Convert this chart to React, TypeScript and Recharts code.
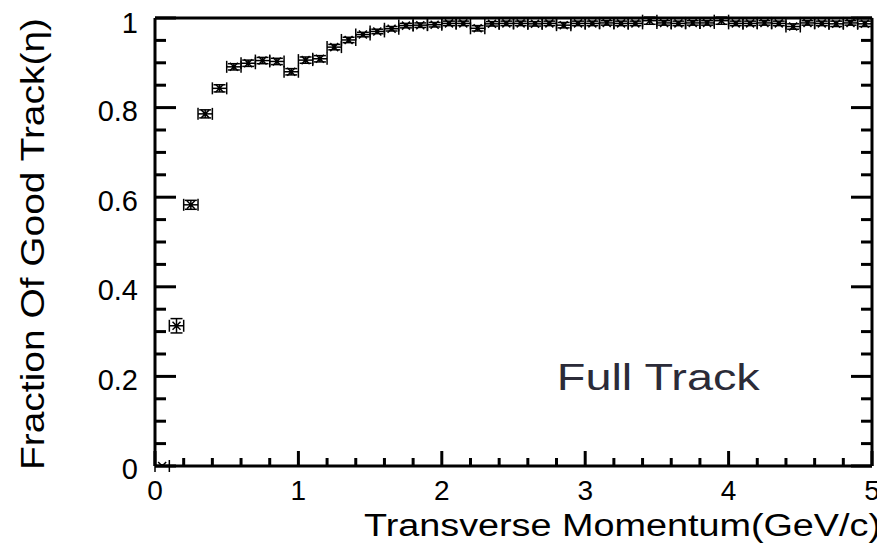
import React from "react";
import { ScatterChart, Scatter, XAxis, YAxis, ErrorBar } from "recharts";

// Transverse-momentum bin centres (GeV/c), 0.1 GeV/c wide bins
const PT_BINS = [
  0.05, 0.15, 0.25, 0.35, 0.45, 0.55, 0.65, 0.75, 0.85, 0.95,
  1.05, 1.15, 1.25, 1.35, 1.45, 1.55, 1.65, 1.75, 1.85, 1.95,
  2.05, 2.15, 2.25, 2.35, 2.45, 2.55, 2.65, 2.75, 2.85, 2.95,
  3.05, 3.15, 3.25, 3.35, 3.45, 3.55, 3.65, 3.75, 3.85, 3.95,
  4.05, 4.15, 4.25, 4.35, 4.45, 4.55, 4.65, 4.75, 4.85, 4.95,
];

// Fraction of good tracks per bin
const GOOD_FRACTION = [
  0.0, 0.313, 0.583, 0.786, 0.843, 0.891, 0.899, 0.905, 0.903, 0.88,
  0.906, 0.909, 0.935, 0.951, 0.963, 0.97, 0.976, 0.983, 0.984, 0.985,
  0.988, 0.988, 0.977, 0.987, 0.988, 0.988, 0.987, 0.988, 0.984, 0.988,
  0.988, 0.989, 0.988, 0.988, 0.994, 0.989, 0.988, 0.989, 0.989, 0.994,
  0.988, 0.988, 0.989, 0.988, 0.981, 0.989, 0.988, 0.987, 0.989, 0.987,
];

// Statistical uncertainty on the fraction
const FRACTION_ERR = [
  0.0, 0.016, 0.01, 0.009, 0.008, 0.007, 0.007, 0.007, 0.007, 0.007,
  0.007, 0.007, 0.006, 0.006, 0.005, 0.005, 0.005, 0.005, 0.005, 0.005,
  0.005, 0.005, 0.006, 0.005, 0.005, 0.005, 0.005, 0.005, 0.006, 0.005,
  0.005, 0.005, 0.005, 0.005, 0.008, 0.005, 0.005, 0.005, 0.005, 0.008,
  0.005, 0.005, 0.005, 0.005, 0.006, 0.005, 0.005, 0.006, 0.005, 0.006,
];

const BIN_HALF_WIDTH = 0.05;

const X_TICKS = [
  0, 0.2, 0.4, 0.6, 0.8, 1, 1.2, 1.4, 1.6, 1.8, 2, 2.2, 2.4, 2.6, 2.8,
  3, 3.2, 3.4, 3.6, 3.8, 4, 4.2, 4.4, 4.6, 4.8, 5,
];
const Y_TICKS = [
  0, 0.05, 0.1, 0.15, 0.2, 0.25, 0.3, 0.35, 0.4, 0.45, 0.5, 0.55, 0.6,
  0.65, 0.7, 0.75, 0.8, 0.85, 0.9, 0.95, 1,
];

const X_TITLE = "Transverse Momentum(GeV/c)";
const Y_TITLE = "Fraction Of Good Track(η)";
const TAG = "Full Track";

const points = PT_BINS.map((pt, i) => ({
  pt,
  frac: GOOD_FRACTION[i],
  xErr: BIN_HALF_WIDTH,
  yErr: FRACTION_ERR[i],
}));

const FONT = "'Liberation Sans', Arial, Helvetica, sans-serif";
const INK = "#000";

const isMajorX = (v: number) => Math.abs(v - Math.round(v)) < 1e-6;
const isMajorY = (v: number) => Math.abs(v * 5 - Math.round(v * 5)) < 1e-6;
const fmtY = (v: number) => (Math.abs(v - 1) < 1e-6 ? "1" : v === 0 ? "0" : v.toFixed(1));

const BottomTick = (props: any) => {
  const { x, y, payload } = props;
  const major = isMajorX(payload.value);
  return (
    <g>
      <line x1={x} x2={x} y1={y} y2={y - (major ? 15 : 8)} stroke={INK} strokeWidth={3} />
      {major && (
        <text x={x} y={y + 34} textAnchor="middle" fontFamily={FONT} fontSize={28} fill={INK}>
          {String(Math.round(payload.value))}
        </text>
      )}
    </g>
  );
};

const TopTick = (props: any) => {
  const { x, y, payload } = props;
  const major = isMajorX(payload.value);
  return <line x1={x} x2={x} y1={y} y2={y + (major ? 15 : 8)} stroke={INK} strokeWidth={3} />;
};

const LeftTick = (props: any) => {
  const { x, y, payload } = props;
  const v = payload.value as number;
  const major = isMajorY(v);
  const shift = Math.abs(v - 1) < 1e-6 ? 5 : 3;
  return (
    <g>
      <line x1={x} x2={x + (major ? 21 : 11)} y1={y} y2={y} stroke={INK} strokeWidth={3} />
      {major && (
        <text x={x - 17} y={y + 10.4 + shift} textAnchor="end" fontFamily={FONT} fontSize={29} fill={INK}>
          {fmtY(v)}
        </text>
      )}
    </g>
  );
};

const RightTick = (props: any) => {
  const { x, y, payload } = props;
  const major = isMajorY(payload.value);
  return <line x1={x} x2={x - (major ? 21 : 11)} y1={y} y2={y} stroke={INK} strokeWidth={3} />;
};

const StarMarker = (props: any) => {
  const { cx, cy } = props;
  if (cx == null || cy == null) return null;
  const r = 4;
  return (
    <g>
      <line x1={cx - r} y1={cy - r} x2={cx + r} y2={cy + r} stroke={INK} strokeWidth={1.5} />
      <line x1={cx - r} y1={cy + r} x2={cx + r} y2={cy - r} stroke={INK} strokeWidth={1.5} />
      <rect x={cx - 1.8} y={cy - 1.8} width={3.6} height={3.6} fill={INK} />
    </g>
  );
};

const axisLine = { stroke: INK, strokeWidth: 3 };

export default function App() {
  return (
    <div style={{ position: "relative", width: 877, height: 547, background: "#fff" }}>
      <ScatterChart width={877} height={547} margin={{ top: 0, right: 0, bottom: 0, left: 0 }}>
        <XAxis
          xAxisId="b"
          type="number"
          dataKey="pt"
          domain={[0, 5]}
          allowDataOverflow
          ticks={X_TICKS}
          interval={0}
          height={89}
          axisLine={axisLine}
          tickLine={false}
          tickSize={0}
          tickMargin={0}
          tick={BottomTick}
        />
        <XAxis
          xAxisId="t"
          orientation="top"
          type="number"
          domain={[0, 5]}
          allowDataOverflow
          ticks={X_TICKS}
          interval={0}
          height={10}
          axisLine={axisLine}
          tickLine={false}
          tickSize={0}
          tickMargin={0}
          tick={TopTick}
        />
        <YAxis
          yAxisId="l"
          type="number"
          dataKey="frac"
          domain={[0, 1]}
          allowDataOverflow
          ticks={Y_TICKS}
          interval={0}
          width={147}
          axisLine={axisLine}
          tickLine={false}
          tickSize={0}
          tickMargin={0}
          tick={LeftTick}
        />
        <YAxis
          yAxisId="r"
          orientation="right"
          type="number"
          domain={[0, 1]}
          allowDataOverflow
          ticks={Y_TICKS}
          interval={0}
          width={13}
          axisLine={axisLine}
          tickLine={false}
          tickSize={0}
          tickMargin={0}
          tick={RightTick}
        />
        <Scatter
          xAxisId="b"
          yAxisId="l"
          data={points}
          shape={StarMarker}
          isAnimationActive={false}
        >
          <ErrorBar dataKey="xErr" direction="x" width={6} stroke={INK} strokeWidth={1.5} isAnimationActive={false} />
          <ErrorBar dataKey="yErr" direction="y" width={6} stroke={INK} strokeWidth={1.5} isAnimationActive={false} />
        </Scatter>
      </ScatterChart>
      <svg
        width={877}
        height={547}
        style={{ position: "absolute", left: 0, top: 0, pointerEvents: "none" }}
      >
        <text
          transform="translate(35.5 236) rotate(-90)"
          textAnchor="middle"
          fontFamily={FONT}
          fontSize={32.5}
          fill={INK}
          textLength={452}
          lengthAdjust="spacingAndGlyphs"
        >
          {Y_TITLE}
        </text>
        <text
          x={614.5}
          y={528}
          textAnchor="middle"
          fontFamily={FONT}
          fontSize={31}
          fill={INK}
          textLength={517}
          lengthAdjust="spacingAndGlyphs"
        >
          {X_TITLE}
        </text>
        <text
          x={650.3}
          y={382}
          textAnchor="middle"
          fontFamily={FONT}
          fontSize={37}
          fill="#2b2b38"
          textLength={203}
          lengthAdjust="spacingAndGlyphs"
        >
          {TAG}
        </text>
      </svg>
    </div>
  );
}
